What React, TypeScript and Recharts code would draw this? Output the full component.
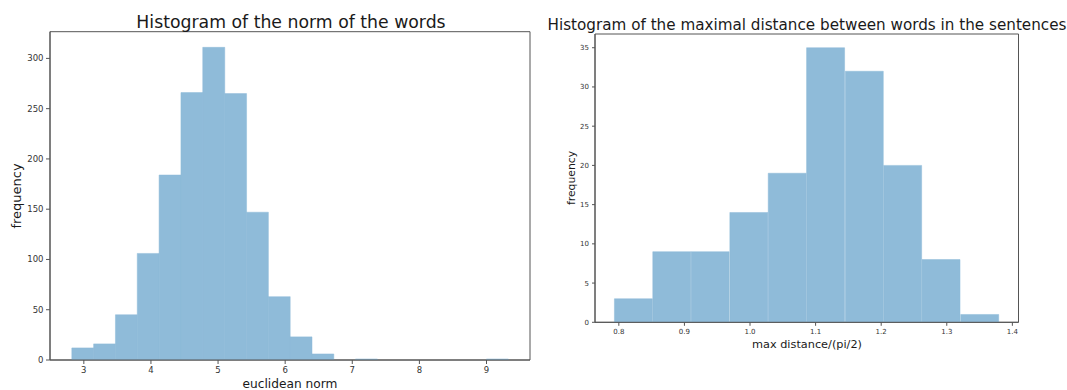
import React from 'react';
import { ComposedChart, Bar, XAxis, YAxis, ReferenceArea } from 'recharts';

// Histogram of the norm of the words
const NORM_EDGES = [2.821, 3.146, 3.471, 3.796, 4.121, 4.447, 4.772, 5.097, 5.422, 5.747, 6.072, 6.397, 6.722, 7.047, 7.372, 7.698, 8.023, 8.348, 8.673, 8.998, 9.323];
const NORM_COUNTS = [12, 16, 45, 106, 184, 266, 311, 265, 147, 63, 23, 6, 0, 1, 0, 0, 0, 0, 0, 1];
const NORM_X_TICKS = [3, 4, 5, 6, 7, 8, 9];
const NORM_Y_TICKS = [0, 50, 100, 150, 200, 250, 300];

// Histogram of the maximal distance between words in the sentences
const DIST_EDGES = [0.793, 0.852, 0.910, 0.969, 1.028, 1.086, 1.145, 1.204, 1.262, 1.321, 1.380];
const DIST_COUNTS = [3, 9, 9, 14, 19, 35, 32, 20, 8, 1];
const DIST_X_TICKS = [0.8, 0.9, 1.0, 1.1, 1.2, 1.3, 1.4];
const DIST_Y_TICKS = [0, 5, 10, 15, 20, 25, 30, 35];

const BAR_COLOR = '#8fbbd9';
const SPINE = '#555';
const FONT = '"DejaVu Sans", sans-serif';

function toBins(edges: number[], counts: number[]) {
  return counts.map((c, i) => ({ x: (edges[i] + edges[i + 1]) / 2, x0: edges[i], x1: edges[i + 1], count: c }));
}
function padded(edges: number[]): [number, number] {
  const lo = edges[0];
  const hi = edges[edges.length - 1];
  const p = (hi - lo) * 0.05;
  return [lo - p, hi + p];
}

const normBins = toBins(NORM_EDGES, NORM_COUNTS);
const distBins = toBins(DIST_EDGES, DIST_COUNTS);
const normXDomain = padded(NORM_EDGES);
const distXDomain = padded(DIST_EDGES);
const normYMax = Math.max(...NORM_COUNTS) * 1.05;
const distYMax = Math.max(...DIST_COUNTS) * 1.05;

export default function App() {
  return (
    <div style={{ position: 'absolute', left: 0, top: 0, width: 1067, height: 390, background: '#fff', overflow: 'hidden', fontFamily: FONT }}>
      <div style={{ position: 'absolute', left: 0, top: 0 }}>
        <ComposedChart width={560} height={390} data={normBins} margin={{ top: 31.7, right: 30, bottom: 0, left: 0 }} barCategoryGap={0} barGap={0}>
          <XAxis dataKey="x" type="number" domain={normXDomain} allowDataOverflow ticks={NORM_X_TICKS} height={30}
            stroke={SPINE} tickSize={4} tickMargin={3} tick={{ fontSize: 8.5, fill: '#333', fontFamily: FONT }} />
          <YAxis type="number" domain={[0, normYMax]} allowDataOverflow ticks={NORM_Y_TICKS} width={50}
            stroke={SPINE} tickSize={4} tickMargin={2.5} tick={{ fontSize: 8.5, fill: '#333', fontFamily: FONT }} />
          <Bar dataKey="count" fill={BAR_COLOR} stroke={BAR_COLOR} strokeWidth={0.5} isAnimationActive={false} />
          <ReferenceArea y1={0} y2={normYMax} fill="none" stroke={SPINE} ifOverflow="visible" />
        </ComposedChart>
      </div>
      <div style={{ position: 'absolute', left: 540, top: 0 }}>
        <ComposedChart width={527} height={390} data={distBins} margin={{ top: 34, right: 48.5, bottom: 42.7, left: 0 }} barCategoryGap={0} barGap={0}>
          <XAxis dataKey="x" type="number" domain={distXDomain} allowDataOverflow ticks={DIST_X_TICKS} height={25}
            tickFormatter={(v: number) => v.toFixed(1)}
            stroke={SPINE} tickSize={3.5} tickMargin={3.5} tick={{ fontSize: 7, fill: '#333', fontFamily: FONT }} />
          <YAxis type="number" domain={[0, distYMax]} allowDataOverflow ticks={DIST_Y_TICKS} width={55}
            stroke={SPINE} tickSize={3} tickMargin={3} tick={{ fontSize: 7, fill: '#333', fontFamily: FONT }} />
          <Bar dataKey="count" fill={BAR_COLOR} stroke={BAR_COLOR} strokeWidth={0.5} isAnimationActive={false} />
          <ReferenceArea y1={0} y2={distYMax} fill="none" stroke={SPINE} ifOverflow="visible" />
        </ComposedChart>
      </div>
      <svg width={1067} height={390} style={{ position: 'absolute', left: 0, top: 0, pointerEvents: 'none' }} fontFamily={FONT}>
        <text x={291} y={27.7} textAnchor="middle" fontSize={17.3} fill="#1a1a1a">Histogram of the norm of the words</text>
        <text x={807} y={29.5} textAnchor="middle" fontSize={15.2} fill="#1a1a1a">Histogram of the maximal distance between words in the sentences</text>
        <text x={290} y={387.5} textAnchor="middle" fontSize={12.2} fill="#1a1a1a">euclidean norm</text>
        <text x={807} y={348} textAnchor="middle" fontSize={11.3} fill="#1a1a1a">max distance/(pi/2)</text>
        <text transform="translate(20.5,196) rotate(-90)" textAnchor="middle" fontSize={13} fill="#1a1a1a">frequency</text>
        <text transform="translate(574.5,178) rotate(-90)" textAnchor="middle" fontSize={10.8} fill="#1a1a1a">frequency</text>
      </svg>
    </div>
  );
}
